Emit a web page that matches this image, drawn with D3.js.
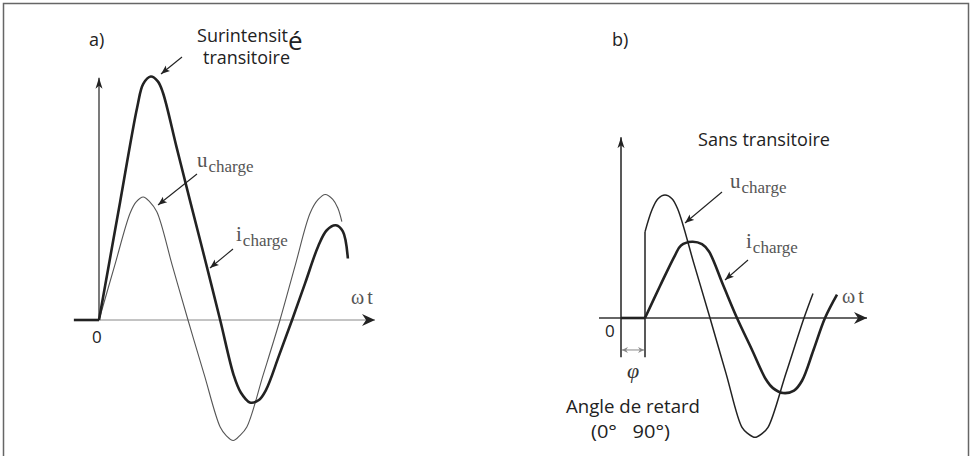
<!DOCTYPE html>
<html>
<head>
<meta charset="utf-8">
<script src="https://cdn.jsdelivr.net/npm/d3@7"></script>
<style>
  body { margin: 0; background: #fff; }
  svg { display: block; }
  .sans { font-family: "Open Sans", "Noto Sans", sans-serif; fill: #222; }
  .serif { font-family: "Liberation Serif", "DejaVu Serif", serif; fill: #555; }
</style>
</head>
<body>
<div class="canva"></div>
<script>
// values: [omega t in degrees, value in per-unit of the voltage peak]
// a) switching at u = 0 -> transient overcurrent
const uA = [[0,0],[31,0.44],[62,0.87],[74,0.96],[88,1.0],[101,0.96],[115,0.88],[146,0.44],[177,0],[209,-0.44],
  [241,-0.87],[253,-0.94],[267,-0.98],[280,-0.94],[294,-0.87],[327,-0.44],[360,0],[390,0.44],[420,0.87],
  [436,0.98],[450,1.02],[465,0.98],[475,0.91],[483,0.80]];
const iOffA = [[-50,0],[0,0]];
const iA = [[0,0],[21,0.48],[42,0.96],[76,1.73],[88,1.92],[103,1.98],[117,1.94],[127,1.85],[154,1.41],[181,0.97],
  [211,0.49],[241,0],[268,-0.45],[282,-0.59],[300,-0.67],[318,-0.65],[332,-0.57],[358,-0.29],[384,0],
  [410,0.30],[436,0.60],[453,0.73],[471,0.77],[485,0.72],[495,0.50]];

// b) switching delayed by phi -> no transient
const phiB = 48;
const uJumpB = [[48,0],[48,0.70]];
const uB = [[48,0.70],[62,0.88],[74,0.97],[88,1.0],[102,0.97],[114,0.88],[146,0.44],[178,0],[210,-0.45],
  [242,-0.89],[254,-0.94],[268,-0.97],[282,-0.94],[294,-0.89],[330,-0.45],[366,0],[384,0.20]];
const iOffB = [[0,0],[48,0]];
const iB = [[48,0],[78,0.26],[108,0.51],[120,0.59],[142,0.62],[162,0.60],[176,0.54],[204,0.27],[232,0],
  [261,-0.25],[290,-0.50],[304,-0.57],[324,-0.61],[346,-0.59],[362,-0.51],[385,-0.26],[408,0],[432,0.19]];

const panelLabels = ["a)", "b)"];
const zeroLabel = "0";
const axisLabel = ["ω", "t"];

const svg = d3.select(".canva").append("svg").attr("width", 973).attr("height", 456);

// frame
svg.append("rect")
  .attr("x", 3.5).attr("y", 3.5).attr("width", 965).attr("height", 480)
  .attr("fill", "none").attr("stroke", "#666").attr("stroke-width", 1.5);

const defs = svg.append("defs");
function marker(id, path, w, h, color) {
  defs.append("marker")
    .attr("id", id)
    .attr("markerUnits", "userSpaceOnUse")
    .attr("viewBox", `${-w} ${-h} ${w + 1} ${2 * h}`)
    .attr("refX", 0).attr("refY", 0)
    .attr("markerWidth", w + 1).attr("markerHeight", 2 * h)
    .attr("orient", "auto")
    .append("path").attr("d", path).attr("fill", color);
}
marker("axisArrow", "M0,0 L-13,-6 L-9,0 L-13,6 Z", 13, 6, "#222");
marker("vArrow", "M0,0 L-11,-3.5 L-8,0 L-11,3.5 Z", 11, 4, "#222");
marker("noteArrow", "M0,0 L-9,-3.5 L-7,0 L-9,3.5 Z", 9, 4, "#222");
marker("dimArrow", "M0,0 L-6,-3 L-4,0 L-6,3 Z", 6, 3, "#888");

const curve = d3.curveCatmullRom.alpha(0.5);

// ---------- panel a ----------
const xA = d3.scaleLinear().domain([0, 360]).range([99, 280]);
const yA = d3.scaleLinear().domain([0, 1]).range([320, 197]);
const lineA = d3.line().x(d => xA(d[0])).y(d => yA(d[1])).curve(curve);
const flatA = d3.line().x(d => xA(d[0])).y(d => yA(d[1]));

svg.append("line")
  .attr("x1", xA(0)).attr("x2", xA(549)).attr("y1", yA(0)).attr("y2", yA(0))
  .attr("stroke", "#888").attr("stroke-width", 1)
  .attr("marker-end", "url(#axisArrow)");
svg.append("line")
  .attr("x1", xA(0)).attr("x2", xA(0)).attr("y1", yA(0)).attr("y2", yA(1.97))
  .attr("stroke", "#222").attr("stroke-width", 1.2)
  .attr("marker-end", "url(#vArrow)");

svg.append("path").attr("d", lineA(uA))
  .attr("fill", "none").attr("stroke", "#555").attr("stroke-width", 1.1);
svg.append("path").attr("d", flatA(iOffA))
  .attr("fill", "none").attr("stroke", "#222").attr("stroke-width", 2.6);
svg.append("path").attr("d", lineA(iA))
  .attr("fill", "none").attr("stroke", "#222").attr("stroke-width", 2.6)
  .attr("stroke-linejoin", "round");

// ---------- panel b ----------
const xB = d3.scaleLinear().domain([0, 360]).range([621, 801]);
const yB = d3.scaleLinear().domain([0, 1]).range([318, 195]);
const lineB = d3.line().x(d => xB(d[0])).y(d => yB(d[1])).curve(curve);
const flatB = d3.line().x(d => xB(d[0])).y(d => yB(d[1]));

svg.append("line")
  .attr("x1", xB(-44)).attr("x2", xB(492)).attr("y1", yB(0)).attr("y2", yB(0))
  .attr("stroke", "#333").attr("stroke-width", 1.6)
  .attr("marker-end", "url(#axisArrow)");
svg.append("line")
  .attr("x1", xB(0)).attr("x2", xB(0)).attr("y1", yB(-0.32)).attr("y2", yB(1.47))
  .attr("stroke", "#222").attr("stroke-width", 1.5)
  .attr("marker-end", "url(#vArrow)");
svg.append("line")
  .attr("x1", xB(phiB)).attr("x2", xB(phiB)).attr("y1", yB(-0.32)).attr("y2", yB(0))
  .attr("stroke", "#222").attr("stroke-width", 1.5);

svg.append("path").attr("d", flatB(uJumpB))
  .attr("fill", "none").attr("stroke", "#222").attr("stroke-width", 1.5);
svg.append("path").attr("d", lineB(uB))
  .attr("fill", "none").attr("stroke", "#222").attr("stroke-width", 1.5);
svg.append("path").attr("d", flatB(iOffB))
  .attr("fill", "none").attr("stroke", "#222").attr("stroke-width", 2.6);
svg.append("path").attr("d", lineB(iB))
  .attr("fill", "none").attr("stroke", "#222").attr("stroke-width", 2.6)
  .attr("stroke-linejoin", "round");

// phi dimension
const dimY = yB(-0.26);
[[xB(phiB / 2), xB(0) + 1], [xB(phiB / 2), xB(phiB) - 1]].forEach(([a, b]) => {
  svg.append("line")
    .attr("x1", a).attr("x2", b).attr("y1", dimY).attr("y2", dimY)
    .attr("stroke", "#888").attr("stroke-width", 1)
    .attr("marker-end", "url(#dimArrow)");
});

// ---------- texts ----------
function sansText(t, x, y, size, len) {
  const s = svg.append("text").attr("class", "sans").attr("x", x).attr("y", y)
    .attr("font-size", size).attr("xml:space", "preserve").style("white-space", "pre").text(t);
  if (len) s.attr("textLength", len).attr("lengthAdjust", "spacingAndGlyphs");
  return s;
}
function subText(main, sub, x, y) {
  const t = svg.append("text").attr("class", "serif").attr("x", x).attr("y", y);
  t.append("tspan").attr("font-size", 21).text(main);
  t.append("tspan").attr("font-size", 17).attr("dy", 5).attr("dx", 1).text(sub);
  return t;
}
function note(x1, y1, x2, y2) {
  svg.append("line")
    .attr("x1", x1).attr("y1", y1).attr("x2", x2).attr("y2", y2)
    .attr("stroke", "#222").attr("stroke-width", 1.1)
    .attr("marker-end", "url(#noteArrow)");
}

sansText(panelLabels[0], 89, 46, 18);
sansText(panelLabels[1], 612, 46, 18);

sansText("Surintensit", 197, 42, 18, 91);
sansText("é", 288, 50, 26);
sansText("transitoire", 203, 64, 18, 87);
note(182, 57, 161, 74);

subText("u", "charge", 197, 167);
note(197, 174, 158, 205);
subText("i", "charge", 236, 241);
note(233, 249, 210, 268);

sansText(zeroLabel, 92, 343, 17);
const wtA = svg.append("text").attr("class", "serif").attr("x", 351).attr("y", 304).attr("font-size", 20);
wtA.append("tspan").text(axisLabel[0]);
wtA.append("tspan").attr("dx", 3).text(axisLabel[1]);

sansText("Sans transitoire", 698, 146, 18, 132);
subText("u", "charge", 730, 188);
note(722, 192, 685, 223);
subText("i", "charge", 746, 248);
note(748, 260, 725, 280);

sansText(zeroLabel, 605, 337, 17);
const wtB = svg.append("text").attr("class", "serif").attr("x", 842).attr("y", 303).attr("font-size", 20);
wtB.append("tspan").text(axisLabel[0]);
wtB.append("tspan").attr("dx", 3).text(axisLabel[1]);

svg.append("text").attr("x", 633).attr("y", 378).attr("text-anchor", "middle")
  .attr("font-family", "'Liberation Serif', serif").attr("font-style", "italic")
  .attr("font-size", 22).attr("fill", "#333").text("φ");
sansText("Angle de retard", 566, 413, 18, 134);
sansText("(0°   90°)", 591, 438, 18, 79);
</script>
</body>
</html>
